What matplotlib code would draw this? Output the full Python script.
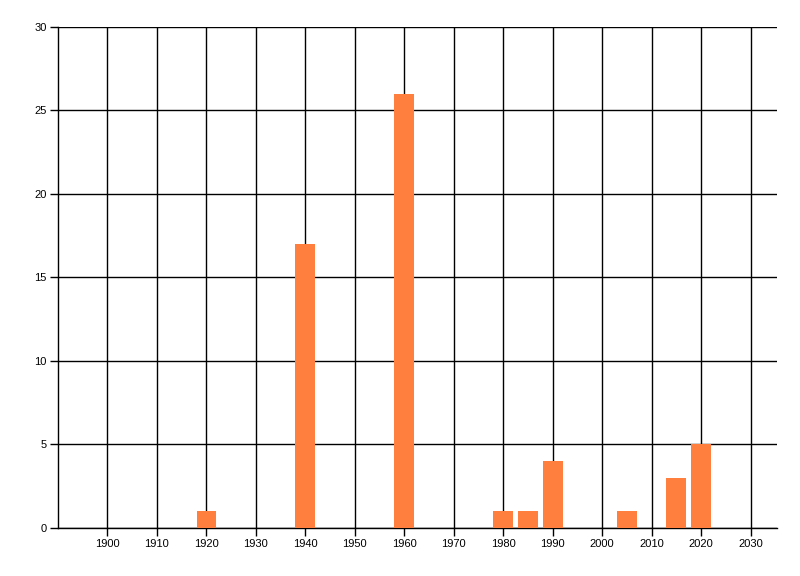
import matplotlib
matplotlib.use("Agg")
import matplotlib.pyplot as plt

# bar data
years = [1920, 1940, 1960, 1980, 1985, 1990, 2005, 2015, 2020]
counts = [1, 17, 26, 1, 1, 4, 1, 3, 5]

xticks = list(range(1900, 2031, 10))
yticks = [0, 5, 10, 15, 20, 25, 30]

plt.rcParams['font.family'] = ['Liberation Sans', 'DejaVu Sans']

fig = plt.figure(figsize=(8, 5.76), dpi=100)
ax = fig.add_axes([0.0725, 0.0833, 0.8985, 0.870])

ax.bar(years, counts, width=4, color='#FF7F3F', zorder=3)

ax.set_xlim(1890, 2035.3)
ax.set_ylim(0, 30)
ax.set_xticks(xticks)
ax.set_yticks(yticks)
ax.grid(True, color='black', linewidth=1, zorder=1)
ax.set_axisbelow(True)

for s in ['top', 'right']:
    ax.spines[s].set_visible(False)
for s in ['left', 'bottom']:
    ax.spines[s].set_color('black')
    ax.spines[s].set_linewidth(1)

ax.tick_params(axis='both', length=6, width=1, color='black', labelsize=8, pad=2)

plt.savefig('out.png', dpi=100)
